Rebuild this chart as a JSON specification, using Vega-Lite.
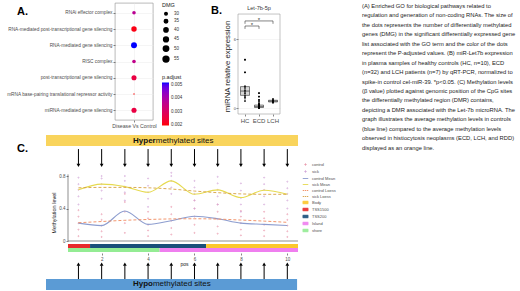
{
"$schema": "https://vega.github.io/schema/vega-lite/v6.json",
"padding": {"left": 6, "top": 2, "right": 0, "bottom": 0},
"background": "white",
"config": {
  "font": "Liberation Sans",
  "view": {"stroke": null},
  "axis": {"grid": false, "domain": false, "labelColor": "#4d4d4d", "tickColor": "#333333", "tickWidth": 0.6, "titleColor": "#1a1a1a", "titleFontWeight": "normal"},
  "legend": {"labelColor": "#333333", "titleColor": "#1a1a1a", "titleFontWeight": "normal", "padding": 0},
  "title": {"color": "#000000"}
},
"datasets": {
  "go": [
    {"term": "RNAi effector complex", "group": "Disease Vs Control", "DMG": 36, "padj": 0.0037},
    {"term": "RNA-mediated post-transcriptional gene silencing", "group": "Disease Vs Control", "DMG": 51, "padj": 0.0021},
    {"term": "RNA-mediated gene silencing", "group": "Disease Vs Control", "DMG": 56, "padj": 0.00515},
    {"term": "RISC complex", "group": "Disease Vs Control", "DMG": 36, "padj": 0.0036},
    {"term": "post-transcriptional gene silencing", "group": "Disease Vs Control", "DMG": 48, "padj": 0.0026},
    {"term": "mRNA base-pairing translational repressor activity", "group": "Disease Vs Control", "DMG": 26, "padj": 0.002},
    {"term": "miRNA-mediated gene silencing", "group": "Disease Vs Control", "DMG": 48, "padj": 0.0026}
  ],
  "mir": [
    {"group": "HC", "expr": 4.2}, {"group": "HC", "expr": 3.1}, {"group": "HC", "expr": 1.9}, {"group": "HC", "expr": 1.75}, {"group": "HC", "expr": 1.55},
    {"group": "HC", "expr": 1.4}, {"group": "HC", "expr": 1.25}, {"group": "HC", "expr": 1.05}, {"group": "HC", "expr": 0.9}, {"group": "HC", "expr": 0.6},
    {"group": "ECD", "expr": 1.3}, {"group": "ECD", "expr": 1.0}, {"group": "ECD", "expr": 0.7}, {"group": "ECD", "expr": 0.55}, {"group": "ECD", "expr": 0.4},
    {"group": "ECD", "expr": 0.35}, {"group": "ECD", "expr": 0.3}, {"group": "ECD", "expr": 0.28}, {"group": "ECD", "expr": 0.25}, {"group": "ECD", "expr": 0.22},
    {"group": "ECD", "expr": 0.2}, {"group": "ECD", "expr": 0.18}, {"group": "ECD", "expr": 0.16}, {"group": "ECD", "expr": 0.15}, {"group": "ECD", "expr": 0.14},
    {"group": "ECD", "expr": 0.12}, {"group": "ECD", "expr": 0.11}, {"group": "ECD", "expr": 0.1}, {"group": "ECD", "expr": 0.09}, {"group": "ECD", "expr": 0.08},
    {"group": "ECD", "expr": 0.07}, {"group": "ECD", "expr": 0.06}, {"group": "ECD", "expr": 0.06}, {"group": "ECD", "expr": 0.05}, {"group": "ECD", "expr": 0.05},
    {"group": "ECD", "expr": 0.04}, {"group": "ECD", "expr": 0.04}, {"group": "ECD", "expr": 0.03}, {"group": "ECD", "expr": 0.03}, {"group": "ECD", "expr": 0.02},
    {"group": "ECD", "expr": 0.02}, {"group": "ECD", "expr": 0.01},
    {"group": "LCH", "expr": 0.8}, {"group": "LCH", "expr": 0.7}, {"group": "LCH", "expr": 0.65}, {"group": "LCH", "expr": 0.6}, {"group": "LCH", "expr": 0.55},
    {"group": "LCH", "expr": 0.5}, {"group": "LCH", "expr": 0.45}
  ],
  "sig": [
    {"g1": "HC", "g2": "LCH", "y": 7.57, "ytip": 7.32, "label": "*"},
    {"g1": "HC", "g2": "ECD", "y": 7.13, "ytip": 6.88, "label": "*"}
  ],
  "caption": [
    {"line": 1, "text": "(A) Enriched GO for biological pathways related to"},
    {"line": 2, "text": "regulation and generation of non-coding RNAs. The size of"},
    {"line": 3, "text": "the dots represents the number of differentially methylated"},
    {"line": 4, "text": "genes (DMG) in the significant differentially expressed gene"},
    {"line": 5, "text": "list associated with the GO term and the color of the dots"},
    {"line": 6, "text": "represent the P-adjusted values. (B) miR-Let7b expression"},
    {"line": 7, "text": "in plasma samples of healthy controls (HC, n=10), ECD"},
    {"line": 8, "text": "(n=32) and LCH patients (n=7) by qRT-PCR, normalized to"},
    {"line": 9, "text": "spike-in control cel-miR-39. *p<0.05. (C) Methylation levels"},
    {"line": 10, "text": "(β value) plotted against genomic position of the CpG sites"},
    {"line": 11, "text": "the differentially methylated region (DMR) contains,"},
    {"line": 12, "text": "depicting a DMR associated with the Let-7b microRNA. The"},
    {"line": 13, "text": "graph illustrates the average methylation levels in controls"},
    {"line": 14, "text": "(blue line) compared to the average methylation levels"},
    {"line": 15, "text": "observed in histiocytosis neoplasms (ECD, LCH, and RDD)"},
    {"line": 16, "text": "displayed as an orange line."}
  ],
  "sites": [{"pos": 1}, {"pos": 2}, {"pos": 3}, {"pos": 4}, {"pos": 5}, {"pos": 6}, {"pos": 7}, {"pos": 8}, {"pos": 9}, {"pos": 10}],
  "tracks": [
    {"series": "TSS1500", "start": 0.55, "end": 1.5, "track": 1},
    {"series": "TSS200", "start": 1.5, "end": 6.5, "track": 1},
    {"series": "Body", "start": 6.5, "end": 10.46, "track": 1},
    {"series": "shore", "start": 0.55, "end": 4.5, "track": 2},
    {"series": "Island", "start": 4.5, "end": 10.46, "track": 2}
  ],
  "curves": [
    {"pos": 1, "series": "control Mean", "value": 0.22}, {"pos": 2, "series": "control Mean", "value": 0.19}, {"pos": 3, "series": "control Mean", "value": 0.37},
    {"pos": 4, "series": "control Mean", "value": 0.205}, {"pos": 5, "series": "control Mean", "value": 0.25}, {"pos": 6, "series": "control Mean", "value": 0.305},
    {"pos": 7, "series": "control Mean", "value": 0.275}, {"pos": 8, "series": "control Mean", "value": 0.22}, {"pos": 9, "series": "control Mean", "value": 0.205},
    {"pos": 10, "series": "control Mean", "value": 0.19},
    {"pos": 1, "series": "sick Mean", "value": 0.63}, {"pos": 2, "series": "sick Mean", "value": 0.7}, {"pos": 3, "series": "sick Mean", "value": 0.67},
    {"pos": 4, "series": "sick Mean", "value": 0.6}, {"pos": 5, "series": "sick Mean", "value": 0.74}, {"pos": 6, "series": "sick Mean", "value": 0.575},
    {"pos": 7, "series": "sick Mean", "value": 0.63}, {"pos": 8, "series": "sick Mean", "value": 0.535}, {"pos": 9, "series": "sick Mean", "value": 0.625},
    {"pos": 10, "series": "sick Mean", "value": 0.575},
    {"pos": 1, "series": "control Loess", "value": 0.225}, {"pos": 2, "series": "control Loess", "value": 0.24}, {"pos": 3, "series": "control Loess", "value": 0.255},
    {"pos": 4, "series": "control Loess", "value": 0.265}, {"pos": 5, "series": "control Loess", "value": 0.272}, {"pos": 6, "series": "control Loess", "value": 0.274},
    {"pos": 7, "series": "control Loess", "value": 0.27}, {"pos": 8, "series": "control Loess", "value": 0.258}, {"pos": 9, "series": "control Loess", "value": 0.245},
    {"pos": 10, "series": "control Loess", "value": 0.23},
    {"pos": 1, "series": "sick Loess", "value": 0.655}, {"pos": 2, "series": "sick Loess", "value": 0.66}, {"pos": 3, "series": "sick Loess", "value": 0.66},
    {"pos": 4, "series": "sick Loess", "value": 0.655}, {"pos": 5, "series": "sick Loess", "value": 0.64}, {"pos": 6, "series": "sick Loess", "value": 0.615},
    {"pos": 7, "series": "sick Loess", "value": 0.595}, {"pos": 8, "series": "sick Loess", "value": 0.58}, {"pos": 9, "series": "sick Loess", "value": 0.575},
    {"pos": 10, "series": "sick Loess", "value": 0.575}
  ],
  "meth": [
    {"pos": 1, "series": "control", "value": 0.06}, {"pos": 1, "series": "control", "value": 0.14}, {"pos": 1, "series": "control", "value": 0.22}, {"pos": 1, "series": "control", "value": 0.3}, {"pos": 1, "series": "control", "value": 0.38},
    {"pos": 1, "series": "sick", "value": 0.45}, {"pos": 1, "series": "sick", "value": 0.55}, {"pos": 1, "series": "sick", "value": 0.63}, {"pos": 1, "series": "sick", "value": 0.7}, {"pos": 1, "series": "sick", "value": 0.78},
    {"pos": 2, "series": "control", "value": 0.05}, {"pos": 2, "series": "control", "value": 0.12}, {"pos": 2, "series": "control", "value": 0.19}, {"pos": 2, "series": "control", "value": 0.26}, {"pos": 2, "series": "control", "value": 0.33},
    {"pos": 2, "series": "sick", "value": 0.52}, {"pos": 2, "series": "sick", "value": 0.62}, {"pos": 2, "series": "sick", "value": 0.7}, {"pos": 2, "series": "sick", "value": 0.77}, {"pos": 2, "series": "sick", "value": 0.8},
    {"pos": 3, "series": "control", "value": 0.1}, {"pos": 3, "series": "control", "value": 0.22}, {"pos": 3, "series": "control", "value": 0.36}, {"pos": 3, "series": "control", "value": 0.48}, {"pos": 3, "series": "control", "value": 0.58},
    {"pos": 3, "series": "sick", "value": 0.5}, {"pos": 3, "series": "sick", "value": 0.6}, {"pos": 3, "series": "sick", "value": 0.67}, {"pos": 3, "series": "sick", "value": 0.74}, {"pos": 3, "series": "sick", "value": 0.8},
    {"pos": 4, "series": "control", "value": 0.06}, {"pos": 4, "series": "control", "value": 0.13}, {"pos": 4, "series": "control", "value": 0.2}, {"pos": 4, "series": "control", "value": 0.28}, {"pos": 4, "series": "control", "value": 0.36},
    {"pos": 4, "series": "sick", "value": 0.42}, {"pos": 4, "series": "sick", "value": 0.52}, {"pos": 4, "series": "sick", "value": 0.6}, {"pos": 4, "series": "sick", "value": 0.68}, {"pos": 4, "series": "sick", "value": 0.77},
    {"pos": 5, "series": "control", "value": 0.08}, {"pos": 5, "series": "control", "value": 0.16}, {"pos": 5, "series": "control", "value": 0.25}, {"pos": 5, "series": "control", "value": 0.33}, {"pos": 5, "series": "control", "value": 0.42},
    {"pos": 5, "series": "sick", "value": 0.58}, {"pos": 5, "series": "sick", "value": 0.66}, {"pos": 5, "series": "sick", "value": 0.74}, {"pos": 5, "series": "sick", "value": 0.8}, {"pos": 5, "series": "sick", "value": 0.84},
    {"pos": 6, "series": "control", "value": 0.1}, {"pos": 6, "series": "control", "value": 0.2}, {"pos": 6, "series": "control", "value": 0.3}, {"pos": 6, "series": "control", "value": 0.4}, {"pos": 6, "series": "control", "value": 0.5},
    {"pos": 6, "series": "sick", "value": 0.4}, {"pos": 6, "series": "sick", "value": 0.5}, {"pos": 6, "series": "sick", "value": 0.58}, {"pos": 6, "series": "sick", "value": 0.66}, {"pos": 6, "series": "sick", "value": 0.74},
    {"pos": 7, "series": "control", "value": 0.09}, {"pos": 7, "series": "control", "value": 0.18}, {"pos": 7, "series": "control", "value": 0.27}, {"pos": 7, "series": "control", "value": 0.36}, {"pos": 7, "series": "control", "value": 0.45},
    {"pos": 7, "series": "sick", "value": 0.45}, {"pos": 7, "series": "sick", "value": 0.55}, {"pos": 7, "series": "sick", "value": 0.63}, {"pos": 7, "series": "sick", "value": 0.71}, {"pos": 7, "series": "sick", "value": 0.79},
    {"pos": 8, "series": "control", "value": 0.07}, {"pos": 8, "series": "control", "value": 0.14}, {"pos": 8, "series": "control", "value": 0.22}, {"pos": 8, "series": "control", "value": 0.3}, {"pos": 8, "series": "control", "value": 0.37},
    {"pos": 8, "series": "sick", "value": 0.36}, {"pos": 8, "series": "sick", "value": 0.45}, {"pos": 8, "series": "sick", "value": 0.53}, {"pos": 8, "series": "sick", "value": 0.62}, {"pos": 8, "series": "sick", "value": 0.71},
    {"pos": 9, "series": "control", "value": 0.06}, {"pos": 9, "series": "control", "value": 0.13}, {"pos": 9, "series": "control", "value": 0.2}, {"pos": 9, "series": "control", "value": 0.28}, {"pos": 9, "series": "control", "value": 0.36},
    {"pos": 9, "series": "sick", "value": 0.45}, {"pos": 9, "series": "sick", "value": 0.55}, {"pos": 9, "series": "sick", "value": 0.63}, {"pos": 9, "series": "sick", "value": 0.7}, {"pos": 9, "series": "sick", "value": 0.78},
    {"pos": 10, "series": "control", "value": 0.05}, {"pos": 10, "series": "control", "value": 0.12}, {"pos": 10, "series": "control", "value": 0.19}, {"pos": 10, "series": "control", "value": 0.26}, {"pos": 10, "series": "control", "value": 0.33},
    {"pos": 10, "series": "sick", "value": 0.4}, {"pos": 10, "series": "sick", "value": 0.5}, {"pos": 10, "series": "sick", "value": 0.58}, {"pos": 10, "series": "sick", "value": 0.65}, {"pos": 10, "series": "sick", "value": 0.73}
  ]
},
"spacing": 132,
"bounds": "flush",
"resolve": {"scale": {"color": "independent", "size": "independent", "shape": "independent"}, "legend": {"color": "independent", "size": "independent", "shape": "independent"}},
"vconcat": [
  {
    "spacing": 0,
    "bounds": "flush",
    "resolve": {"scale": {"color": "independent", "size": "independent", "shape": "independent"}, "legend": {"color": "independent", "size": "independent", "shape": "independent"}},
    "hconcat": [
      {
        "width": 69, "height": 117,
        "title": {"text": "A.", "anchor": "start", "dx": -29, "dy": 14, "offset": 0, "fontSize": 11, "fontWeight": "bold"},
        "data": {"values": [{}]},
        "mark": {"type": "text"},
        "encoding": {"text": {"value": ""}}
      },
      {
        "width": 38, "height": 117,
        "view": {"stroke": "#8c8c8c", "strokeWidth": 0.6},
        "data": {"name": "go"},
        "mark": {"type": "circle", "opacity": 1},
        "encoding": {
          "x": {"field": "group", "type": "nominal", "scale": {"type": "point", "padding": 0.5},
                "axis": {"title": null, "labelAngle": 0, "labelFontSize": 5.2, "tickSize": 2, "labelPadding": 1, "grid": true, "gridColor": "#ebebeb", "gridWidth": 0.5}},
          "y": {"field": "term", "type": "nominal", "sort": null, "scale": {"type": "point", "padding": 0.6},
                "axis": {"title": null, "labelFontSize": 4.75, "tickSize": 2, "labelPadding": 1, "labelLimit": 0, "grid": true, "gridColor": "#ebebeb", "gridWidth": 0.5}},
          "size": {"field": "DMG", "type": "quantitative", "scale": {"domain": [26, 56], "range": [1.8, 35]},
                   "legend": {"title": "DMG", "values": [30, 35, 40, 45, 50, 55], "orient": "none", "legendX": 47, "legendY": 0,
                              "symbolFillColor": "black", "symbolStrokeColor": "black", "symbolType": "circle",
                              "titleFontSize": 5.5, "labelFontSize": 4.5, "rowPadding": -2.8, "titlePadding": 3, "labelOffset": 4}},
          "color": {"field": "padj", "type": "quantitative",
                    "scale": {"domain": [0.00199, 0.00515], "range": ["#ff0000", "#0000ff"], "interpolate": "lab"},
                    "legend": {"title": "p.adjust", "orient": "none", "legendX": 47, "legendY": 72, "direction": "vertical",
                               "gradientLength": 43, "gradientThickness": 7, "values": [0.002, 0.003, 0.004, 0.005], "format": ".3f",
                               "labelFontSize": 4.5, "titleFontSize": 5.5, "titlePadding": 2, "labelOffset": 2}}
        }
      },
      {
        "width": 85, "height": 10,
        "title": {"text": "B.", "anchor": "end", "dx": -16, "dy": 14, "offset": 0, "fontSize": 11, "fontWeight": "bold"},
        "data": {"values": [{}]},
        "mark": {"type": "text"},
        "encoding": {"text": {"value": ""}}
      },
      {
        "width": 42, "height": 111,
        "title": {"text": "Let-7b-5p", "anchor": "middle", "offset": 0, "dy": 8, "fontSize": 5.5, "fontWeight": "normal", "color": "#333333"},
        "layer": [
          {
            "data": {"name": "mir"},
            "mark": {"type": "boxplot", "extent": 1.5, "size": 9,
                     "box": {"color": "#d9d9d9", "stroke": "#333333", "strokeWidth": 0.6},
                     "median": {"color": "#333333"},
                     "rule": {"color": "#333333", "strokeWidth": 0.6},
                     "outliers": {"size": 3, "filled": true, "color": "#000000", "opacity": 1}},
            "encoding": {
              "x": {"field": "group", "type": "nominal", "sort": ["HC", "ECD", "LCH"], "scale": {"domain": ["HC", "ECD", "LCH"], "paddingInner": 0, "paddingOuter": 0},
                    "axis": {"title": null, "labelAngle": 0, "labelFontSize": 6, "tickSize": 2, "labelPadding": 1}},
              "y": {"field": "expr", "type": "quantitative", "scale": {"domain": [-0.52, 9.13], "nice": false, "zero": false},
                    "axis": {"title": "miRNA relative expression", "titleFontSize": 7.8, "titlePadding": 1.5, "titleY": 63, "values": [0, 2, 4, 6],
                             "labelFontSize": 4, "tickSize": 2, "labelPadding": 0.5, "grid": true, "gridColor": "#ebebeb", "gridWidth": 0.5}}
            }
          },
          {
            "data": {"name": "mir"},
            "mark": {"type": "point", "filled": true, "size": 3, "color": "#000000", "opacity": 1},
            "encoding": {
              "x": {"field": "group", "type": "nominal"},
              "y": {"field": "expr", "type": "quantitative"}
            }
          },
          {
            "data": {"values": [{}]},
            "mark": {"type": "rect", "fillOpacity": 0, "stroke": "#9a9a9a", "strokeWidth": 0.6},
            "encoding": {"y": {"datum": -0.52}, "y2": {"datum": 8.17}}
          },
          {
            "data": {"name": "sig"},
            "mark": {"type": "rule", "color": "#333333", "strokeWidth": 0.6},
            "encoding": {
              "x": {"field": "g1", "type": "nominal"},
              "x2": {"field": "g2"},
              "y": {"field": "y", "type": "quantitative"}
            }
          },
          {
            "data": {"name": "sig"},
            "mark": {"type": "rule", "color": "#333333", "strokeWidth": 0.6},
            "encoding": {
              "x": {"field": "g1", "type": "nominal"},
              "y": {"field": "y", "type": "quantitative"},
              "y2": {"field": "ytip"}
            }
          },
          {
            "data": {"name": "sig"},
            "mark": {"type": "rule", "color": "#333333", "strokeWidth": 0.6},
            "encoding": {
              "x": {"field": "g2", "type": "nominal"},
              "y": {"field": "y", "type": "quantitative"},
              "y2": {"field": "ytip"}
            }
          },
          {
            "data": {"name": "sig"},
            "transform": [{"filter": "datum.g2 == 'LCH'"}],
            "mark": {"type": "text", "fontSize": 6, "baseline": "middle", "dy": -1, "color": "#333333"},
            "encoding": {
              "x": {"datum": "ECD"},
              "y": {"field": "y", "type": "quantitative"},
              "text": {"field": "label"}
            }
          },
          {
            "data": {"name": "sig"},
            "transform": [{"filter": "datum.g2 == 'ECD'"}],
            "mark": {"type": "text", "fontSize": 6, "baseline": "middle", "dy": -1, "color": "#333333"},
            "encoding": {
              "x": {"datum": "ECD", "bandPosition": 0},
              "y": {"field": "y", "type": "quantitative"},
              "text": {"field": "label"}
            }
          }
        ]
      },
      {
        "width": 82, "height": 10,
        "data": {"values": [{}]},
        "mark": {"type": "text"},
        "encoding": {"text": {"value": ""}}
      },
      {
        "width": 155, "height": 100,
        "data": {"name": "caption"},
        "mark": {"type": "text", "align": "left", "baseline": "middle", "fontSize": 5.8, "color": "#1a1a1a"},
        "encoding": {
          "x": {"datum": 0, "type": "quantitative", "scale": {"domain": [0, 1]}, "axis": null},
          "y": {"field": "line", "type": "quantitative", "scale": {"domain": [0.6825, 11.265], "reverse": true, "nice": false, "zero": false}, "axis": null},
          "text": {"field": "text"}
        }
      }
    ]
  },
  {
    "width": 252, "height": 155,
    "title": {"text": "C.", "anchor": "start", "dx": -29, "dy": 19, "offset": 0, "fontSize": 11, "fontWeight": "bold"},
    "layer": [
      {
        "data": {"values": [{}]},
        "mark": {"type": "rect", "color": "#f9d45c"},
        "encoding": {"x": {"datum": -0.398}, "x2": {"datum": 10.46}, "y": {"datum": 1.169}, "y2": {"datum": 1.305}}
      },
      {
        "data": {"values": [{"t": "Hyper"}]},
        "mark": {"type": "text", "align": "right", "baseline": "middle", "fontSize": 8, "fontWeight": "bold", "color": "#111111"},
        "encoding": {"x": {"datum": 4.33}, "y": {"datum": 1.237}, "text": {"field": "t"}}
      },
      {
        "data": {"values": [{"t": "methylated sites"}]},
        "mark": {"type": "text", "align": "left", "baseline": "middle", "fontSize": 8, "color": "#111111"},
        "encoding": {"x": {"datum": 4.33}, "y": {"datum": 1.237}, "text": {"field": "t"}}
      },
      {
        "data": {"values": [{}]},
        "mark": {"type": "rect", "color": "#5b9bd5"},
        "encoding": {"x": {"datum": -0.398}, "x2": {"datum": 10.42}, "y": {"datum": -0.603}, "y2": {"datum": -0.468}}
      },
      {
        "data": {"values": [{"t": "Hypo"}]},
        "mark": {"type": "text", "align": "right", "baseline": "middle", "fontSize": 8, "fontWeight": "bold", "color": "#111111"},
        "encoding": {"x": {"datum": 4.21}, "y": {"datum": -0.535}, "text": {"field": "t"}}
      },
      {
        "data": {"values": [{"t": "methylated sites"}]},
        "mark": {"type": "text", "align": "left", "baseline": "middle", "fontSize": 8, "color": "#111111"},
        "encoding": {"x": {"datum": 4.21}, "y": {"datum": -0.535}, "text": {"field": "t"}}
      },
      {
        "data": {"name": "tracks"},
        "transform": [{"filter": "datum.track == 1"}],
        "mark": {"type": "rect"},
        "encoding": {"x": {"field": "start", "type": "quantitative"}, "x2": {"field": "end"}, "y": {"datum": -0.037}, "y2": {"datum": -0.086},
                     "color": {"field": "series", "type": "nominal"}}
      },
      {
        "data": {"name": "tracks"},
        "transform": [{"filter": "datum.track == 2"}],
        "mark": {"type": "rect"},
        "encoding": {"x": {"field": "start", "type": "quantitative"}, "x2": {"field": "end"}, "y": {"datum": -0.086}, "y2": {"datum": -0.135},
                     "color": {"field": "series", "type": "nominal"}}
      },
      {
        "data": {"values": [{}]},
        "mark": {"type": "rule", "color": "#444444", "strokeWidth": 0.6},
        "encoding": {"x": {"datum": 0.55}, "y": {"datum": 0}, "y2": {"datum": 0.82}}
      },
      {
        "data": {"values": [{}]},
        "mark": {"type": "rule", "color": "#444444", "strokeWidth": 0.6},
        "encoding": {"x": {"datum": 0.55}, "x2": {"datum": 10.46}, "y": {"datum": 0}}
      },
      {
        "data": {"name": "meth"},
        "mark": {"type": "point", "filled": false, "size": 18, "strokeWidth": 0.8, "opacity": 0.9},
        "encoding": {
          "x": {"field": "pos", "type": "quantitative", "scale": {"domain": [-0.398, 10.46], "nice": false, "zero": false},
                "axis": {"values": [2, 4, 6, 8, 10], "offset": -37, "tickSize": 2, "labelFontSize": 4.5, "labelPadding": 1,
                         "title": "pos", "titleFontSize": 5, "titlePadding": 1, "titleX": 138, "domain": false, "grid": false}},
          "y": {"field": "value", "type": "quantitative", "scale": {"domain": [-0.603, 1.305], "nice": false, "zero": false},
                "axis": {"values": [0, 0.2, 0.4, 0.6, 0.8], "format": ".1~f", "offset": -22, "tickSize": 2, "labelFontSize": 4.5, "labelPadding": 1,
                         "title": "Methylation level", "titleFontSize": 5.5, "titlePadding": 2, "domain": false, "grid": false}},
          "color": {"field": "series", "type": "nominal",
                    "scale": {"domain": ["control", "sick", "control Mean", "sick Mean", "control Loess", "sick Loess", "Body", "TSS1500", "TSS200", "Island", "shore"],
                              "range": ["#e993a8", "#cf9fd6", "#8d9dcf", "#e6da4f", "#f08a5d", "#d7a042", "#fcc72c", "#e8292b", "#1a4f7a", "#ef7fef", "#94ec94"]},
                    "legend": {"title": null, "orient": "none", "legendX": 256, "legendY": 26, "labelFontSize": 4, "symbolSize": 30,
                               "rowPadding": -1, "symbolStrokeWidth": 1, "labelOffset": 3, "labelColor": "#4d4d4d"}},
          "shape": {"field": "series", "type": "nominal",
                    "scale": {"domain": ["control", "sick", "control Mean", "sick Mean", "control Loess", "sick Loess", "Body", "TSS1500", "TSS200", "Island", "shore"],
                              "range": ["M-0.25,0A0.25,0.25,0,1,1,0.25,0A0.25,0.25,0,1,1,-0.25,0Z", "M-0.25,0A0.25,0.25,0,1,1,0.25,0A0.25,0.25,0,1,1,-0.25,0Z",
                                        "M-1,0H1", "M-1,0H1", "M-1,0H-0.45M-0.2,0H0.2M0.45,0H1", "M-1,0H-0.45M-0.2,0H0.2M0.45,0H1",
                                        "M-1,-0.45H1M-1,-0.3H1M-1,-0.15H1M-1,0H1M-1,0.15H1M-1,0.3H1M-1,0.45H1",
                                        "M-1,-0.45H1M-1,-0.3H1M-1,-0.15H1M-1,0H1M-1,0.15H1M-1,0.3H1M-1,0.45H1",
                                        "M-1,-0.45H1M-1,-0.3H1M-1,-0.15H1M-1,0H1M-1,0.15H1M-1,0.3H1M-1,0.45H1",
                                        "M-1,-0.45H1M-1,-0.3H1M-1,-0.15H1M-1,0H1M-1,0.15H1M-1,0.3H1M-1,0.45H1",
                                        "M-1,-0.45H1M-1,-0.3H1M-1,-0.15H1M-1,0H1M-1,0.15H1M-1,0.3H1M-1,0.45H1"]},
                    "legend": {"title": null, "orient": "none", "legendX": 256, "legendY": 26, "labelFontSize": 4, "symbolSize": 30,
                               "rowPadding": -1, "symbolStrokeWidth": 1, "labelOffset": 3, "labelColor": "#4d4d4d"}}
        }
      },
      {
        "data": {"name": "curves"},
        "transform": [{"filter": "indexof(datum.series, 'Mean') >= 0"}],
        "mark": {"type": "line", "interpolate": "monotone", "strokeWidth": 1.1},
        "encoding": {"x": {"field": "pos", "type": "quantitative"}, "y": {"field": "value", "type": "quantitative"},
                     "color": {"field": "series", "type": "nominal"}}
      },
      {
        "data": {"name": "curves"},
        "transform": [{"filter": "indexof(datum.series, 'Loess') >= 0"}],
        "mark": {"type": "line", "interpolate": "monotone", "strokeWidth": 0.9, "strokeDash": [3, 2]},
        "encoding": {"x": {"field": "pos", "type": "quantitative"}, "y": {"field": "value", "type": "quantitative"},
                     "color": {"field": "series", "type": "nominal"}}
      },
      {
        "data": {"name": "sites"},
        "mark": {"type": "rule", "color": "#000000", "strokeWidth": 1},
        "encoding": {"x": {"field": "pos", "type": "quantitative"}, "y": {"datum": 1.132}, "y2": {"datum": 0.94}}
      },
      {
        "data": {"name": "sites"},
        "mark": {"type": "point", "shape": "triangle-down", "filled": true, "color": "#000000", "size": 14, "opacity": 1},
        "encoding": {"x": {"field": "pos", "type": "quantitative"}, "y": {"datum": 0.93}}
      },
      {
        "data": {"name": "sites"},
        "mark": {"type": "rule", "color": "#000000", "strokeWidth": 1},
        "encoding": {"x": {"field": "pos", "type": "quantitative"}, "y": {"datum": -0.468}, "y2": {"datum": -0.3}}
      },
      {
        "data": {"name": "sites"},
        "mark": {"type": "point", "shape": "triangle-up", "filled": true, "color": "#000000", "size": 14, "opacity": 1},
        "encoding": {"x": {"field": "pos", "type": "quantitative"}, "y": {"datum": -0.285}}
      }
    ]
  }
]
}
